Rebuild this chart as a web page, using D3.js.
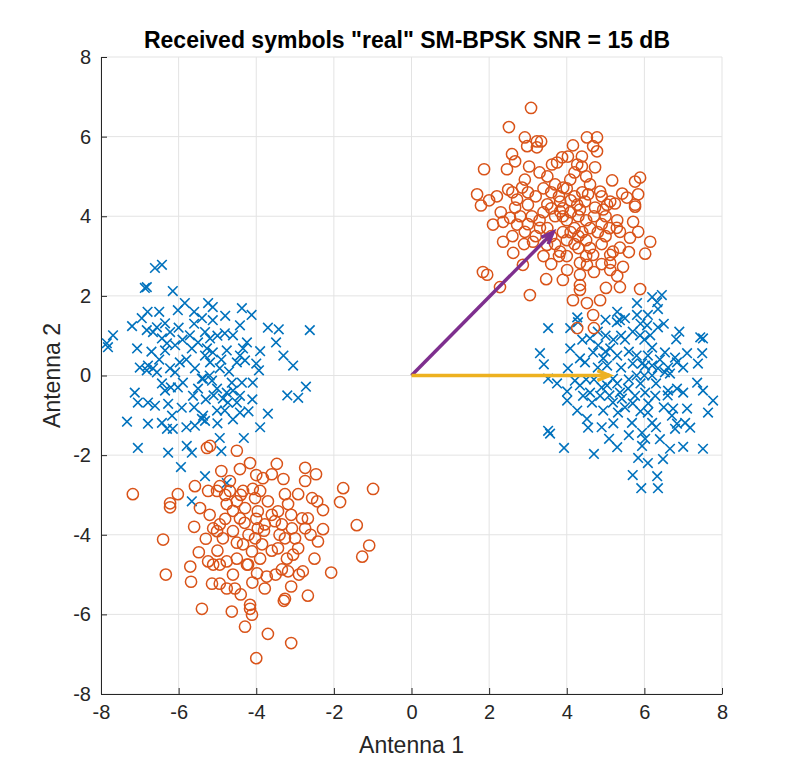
<!DOCTYPE html>
<html>
<head>
<meta charset="utf-8">
<script src="https://cdn.jsdelivr.net/npm/d3@7"></script>
<style>
    body { margin: 0; background: #fff; }
    text { font-family: "Liberation Sans", Arial, sans-serif; }
</style>
</head>
<body>
<div id="chart"></div>
<script>
//Received symbols, orange circles near (+h1+h2) and (-h1-h2)
var orangeTopRight = [
    [3.08,6.72],[2.51,6.24],[2.92,5.98],[3.23,5.88],[3.34,5.88],[2.98,5.76],[3.23,5.73],[2.59,5.56],[2.67,5.38],[1.87,5.18],
    [2.46,5.18],[3.03,5.25],[3.62,5.30],[3.75,5.35],[3.88,5.48],[4.03,5.5],[1.69,4.55],[1.79,4.27],[2.49,4.67],[2.92,4.92],
    [2.85,4.72],[2.72,4.42],[2.67,4.22],[3.0,4.29],[4.52,5.98],[4.78,5.98],[4.68,5.76],[4.78,5.63],[4.16,5.78],[4.39,5.5],
    [4.73,5.23],[4.27,5.30],[4.39,5.25],[5.17,4.9],[5.76,4.87],[5.89,4.97],[4.86,4.62],[5.43,4.57],[5.55,4.47],[5.84,4.55],
    [5.76,4.29],[5.12,4.37],[5.24,4.32],[4.55,4.55],[4.47,4.37],[4.09,4.92],[3.91,4.72],[3.83,4.37],[4.27,4.29],[4.34,4.17],
    [4.73,4.22],[4.94,4.17],[5.04,4.29],[2.1,3.79],[2.36,3.86],[2.36,3.36],[2.62,3.08],[2.87,2.78],[1.84,2.6],[1.95,2.53],
    [2.28,2.22],[3.05,2.02],[3.47,2.42],[2.54,3.96],[2.72,3.79],[2.92,3.61],[3.31,3.71],[3.13,3.36],[3.49,3.28],[3.83,3.11],
    [3.83,4.12],[5.71,3.86],[5.84,3.61],[6.15,3.36],[6.02,3.06],[5.76,4.24],[5.19,3.11],[5.37,3.21],[5.12,3.03],[5.12,2.83],
    [5.45,2.73],[5.12,2.65],[4.68,3.03],[4.52,2.78],[4.34,2.83],[4.01,2.65],[4.34,2.53],[4.34,2.27],[4.16,1.89],[4.52,1.82],
    [5.01,2.2],[5.37,2.22],[5.89,2.17],[4.68,1.52],[4.27,1.19],[5.37,3.61],[5.29,3.71],[5.63,3.46],[4.34,2.15],[4.86,1.89],
    [4.7,1.19],[3.4,4.1],[3.5,4.3],[3.6,4.6],[3.7,4.0],[3.8,4.5],[3.9,4.2],[4.0,3.9],[4.1,4.4],[4.2,3.7],
    [4.3,4.0],[4.4,3.6],[4.5,3.9],[4.6,3.7],[4.7,4.0],[4.8,3.6],[4.9,3.8],[5.0,3.5],[3.5,3.7],[3.6,3.5],
    [3.7,3.3],[3.9,3.6],[4.0,3.4],[4.1,3.6],[4.2,3.3],[4.3,3.5],[4.5,3.4],[4.6,3.2],[4.0,4.7],[3.7,4.8],
    [3.4,4.7],[3.2,4.5],[3.3,3.9],[3.1,4.0],[3.0,3.8],[3.2,3.5],[4.1,4.1],[4.4,4.6],[4.6,4.8],[4.9,4.5],
    [5.0,4.0],[5.3,3.9],[5.1,3.7],[4.3,3.2],[3.8,3.0],[4.0,3.0],[4.5,3.0],[4.9,3.3],[3.6,4.2],[3.9,4.0],
    [4.2,4.5],[3.5,5.0],[3.3,5.1],[4.2,5.1],[4.5,5.0],[3.0,4.6],[2.8,4.0],[2.6,4.6],[2.3,4.1],[2.2,4.5],
    [2.0,4.4],[2.9,3.3],[2.6,3.5],[3.4,3.0],[3.6,2.8],[3.9,2.4],[4.7,2.6],[4.9,2.8],[5.6,3.1],[5.3,2.5]
];

var orangeBottomLeft = [
    [-7.18,-2.98],[-6.02,-2.98],[-6.22,-3.21],[-6.22,-3.31],[-6.4,-4.12],[-6.33,-5.0],[-5.68,-5.18],[-5.4,-5.86],[-5.48,-4.44],[-5.24,-4.67],
    [-5.11,-4.75],[-5.14,-5.23],[-4.94,-5.23],[-4.76,-5.35],[-4.55,-5.35],[-4.63,-5.93],[-4.29,-6.31],[-4.0,-7.1],[-5.27,-1.82],[-5.19,-1.77],
    [-4.5,-1.89],[-4.42,-2.35],[-4.16,-2.2],[-5.45,-3.33],[-5.58,-2.78],[-5.24,-2.9],[-5.01,-2.9],[-4.94,-2.78],[-5.11,-3.84],[-4.94,-3.74],
    [-5.01,-3.91],[-4.86,-4.09],[-4.68,-2.9],[-4.76,-3.23],[-4.5,-3.16],[-4.42,-3.59],[-4.6,-3.91],[-4.34,-4.24],[-4.5,-4.6],[-4.76,-4.67],
    [-4.94,-4.75],[-4.6,-5.0],[-4.24,-4.75],[-4.16,-5.86],[-4.11,-6.01],[-4.34,-2.9],[-4.68,-2.65],[-3.47,-2.22],[-3.83,-2.58],[-3.6,-2.48],
    [-2.74,-2.32],[-2.74,-2.65],[-2.46,-2.48],[-1.76,-2.83],[-0.99,-2.85],[-1.84,-3.18],[-1.41,-3.76],[-1.09,-4.27],[-1.27,-4.55],[-2.07,-4.95],
    [-2.67,-5.53],[-3.26,-5.61],[-3.29,-5.66],[-3.7,-6.49],[-3.1,-6.72],[-2.28,-3.38],[-2.28,-3.86],[-2.41,-4.17],[-2.8,-4.92],[-3.18,-4.92],
    [-3.34,-4.87],[-3.78,-5.35],[-4.16,-5.76],[-3.98,-4.97],[-3.73,-5.05],[-2.56,-3.08],[-2.43,-3.16],[-2.67,-3.59],[-2.74,-3.84],[-2.92,-4.34],
    [-3.05,-4.5],[-3.21,-4.6],[-3.44,-4.34],[-3.26,-4.09],[-3.0,-4.09],[-3.08,-3.84],[-3.34,-3.74],[-3.52,-3.66],[-3.78,-3.74],[-3.96,-3.84],
    [-4.03,-4.09],[-3.85,-4.24],[-4.11,-4.42],[-4.21,-4.75],[-3.96,-3.41],[-3.44,-3.41],[-3.7,-3.16],[-3.26,-2.98],[-2.92,-2.98],[-3.18,-3.23],
    [-2.82,-3.59],[-4.03,-3.08],[-4.09,-2.85],[-4.29,-3.33],[-4.6,-3.4],[-4.3,-3.7],[-4.0,-3.6],[-3.8,-3.9],[-4.2,-4.0],[-4.5,-4.2],
    [-4.8,-3.6],[-5.2,-3.5],[-5.3,-4.1],[-3.6,-4.4],[-3.4,-4.0],[-3.9,-4.6],[-4.4,-3.0],[-3.9,-2.9],[-3.6,-3.5],[-3.1,-3.5],
    [-2.6,-4.0],[-2.5,-4.6],[-3.5,-5.0],[-4.1,-5.2],[-4.4,-5.5],[-5.0,-4.4],[-5.6,-3.8],[-5.7,-4.8],[-4.8,-3.0],[-3.3,-2.6],
    [-3.1,-5.3],[-2.9,-5.0],[-4.0,-2.5],[-4.9,-2.4]
];

//Received symbols, blue crosses near (+h1-h2) and (-h1+h2)
var blueRight = [
    [3.52,1.19],[4.09,1.19],[3.31,0.56],[3.41,0.28],[4.09,0.68],[4.03,0.18],[3.52,-0.08],[3.75,-0.2],[4.01,-0.4],[4.01,-0.63],
    [4.27,-0.88],[4.52,-1.09],[4.55,-1.31],[3.52,-1.39],[3.57,-1.46],[3.93,-1.82],[4.7,-1.97],[5.09,-1.59],[4.27,1.46],[4.29,1.34],
    [5.29,1.34],[5.37,1.39],[4.6,0.93],[4.68,0.58],[4.81,0.76],[4.94,0.43],[5.12,0.68],[5.04,0.25],[4.34,0.43],[4.47,0.33],
    [4.21,-0.13],[4.34,-0.25],[4.42,-0.51],[4.6,-0.43],[4.65,-0.68],[4.86,-0.51],[5.04,-0.25],[5.19,-0.68],[4.94,-0.88],[5.32,-0.93],
    [5.19,-0.08],[5.37,-0.43],[5.81,1.82],[6.2,1.97],[6.45,2.02],[6.33,1.84],[6.35,1.67],[5.5,1.44],[5.81,1.52],[6.09,1.52],
    [6.07,1.26],[6.35,1.21],[5.89,1.01],[6.15,1.01],[6.82,0.91],[7.44,0.96],[7.51,0.93],[6.53,0.58],[7.1,0.56],[7.49,0.56],
    [7.38,0.3],[6.79,0.45],[6.84,0.33],[6.09,0.5],[6.02,0.25],[6.2,0.25],[5.94,0.3],[6.35,0.18],[6.53,0.08],[6.66,0.05],
    [6.61,0.2],[7.36,-0.18],[7.51,-0.38],[7.77,-0.63],[7.64,-0.93],[6.84,-0.33],[7.0,-0.43],[6.61,-0.38],[6.74,-0.83],[7.1,-0.83],
    [6.71,-1.01],[7.05,-1.19],[7.18,-1.31],[6.79,-1.34],[6.84,-1.21],[5.58,-0.33],[5.42,-0.58],[5.76,-0.51],[6.02,-0.43],[6.28,-0.51],
    [6.09,-0.93],[6.2,-1.19],[5.68,-1.19],[5.94,-1.44],[6.02,-1.59],[5.94,-1.77],[6.66,-1.84],[7.0,-1.79],[7.51,-1.84],[5.84,-2.07],
    [6.09,-2.2],[6.48,-2.1],[6.33,-2.53],[6.35,-2.83],[5.92,-2.83],[5.5,0.9],[5.6,0.6],[5.7,0.3],[5.8,0.0],[5.9,-0.2],
    [5.4,0.2],[5.3,0.5],[5.6,-0.1],[5.7,-0.7],[5.9,-0.9],[6.1,-0.7],[6.3,-0.2],[6.4,0.4],[6.2,0.7],[6.0,0.9],
    [5.7,1.1],[5.4,1.0],[5.2,0.9],[5.0,1.0],[4.8,0.2],[4.7,-0.1],[4.9,-0.3],[5.1,-0.5],[5.3,-0.2],[5.5,-0.8],
    [5.2,-1.2],[4.9,-1.3],[5.6,-1.5],[6.3,-1.3],[6.5,-0.8],[6.6,-0.5],[6.0,0.0],[6.2,0.0],[5.8,0.5],[5.0,0.6],
    [4.8,1.1],[4.4,0.9],[4.5,-0.1],[5.3,1.6],[5.0,1.4],[5.9,1.3],[6.5,1.3],[6.9,1.1],[7.0,0.2],[6.4,-1.6],
    [5.3,-1.8],[5.7,-2.5]
];

var blueLeft = [
    [-6.61,2.7],[-6.43,2.78],[-6.87,2.2],[-6.82,2.22],[-6.15,2.12],[-5.84,1.82],[-6.02,1.64],[-6.95,1.44],[-7.2,1.24],[-7.69,1.01],
    [-7.85,0.81],[-7.82,0.71],[-7.07,0.68],[-6.82,1.14],[-6.66,1.09],[-6.56,1.21],[-6.35,1.31],[-6.43,0.93],[-6.3,0.81],[-6.35,0.63],
    [-6.22,1.09],[-6.09,0.76],[-6.79,0.25],[-6.82,0.13],[-6.66,0.18],[-6.56,0.08],[-6.22,0.18],[-6.09,0.08],[-5.97,0.33],[-5.89,-0.18],
    [-6.02,-0.3],[-7.13,-0.43],[-6.43,-0.2],[-6.35,-0.38],[-7.05,-0.68],[-6.79,-0.68],[-6.61,-0.76],[-6.27,-0.71],[-6.17,-1.01],[-5.92,-0.81],
    [-7.33,-1.16],[-6.79,-1.21],[-6.43,-1.19],[-6.3,-1.34],[-6.15,-1.34],[-7.05,-1.82],[-6.27,-1.94],[-5.79,-1.77],[-5.66,-1.94],[-5.94,-2.3],
    [-5.58,-1.26],[-5.4,-1.09],[-5.5,-0.33],[-5.63,-0.51],[-5.4,-0.08],[-5.58,0.18],[-5.32,0.5],[-5.66,0.68],[-5.5,0.83],[-5.71,1.01],
    [-5.32,1.09],[-5.4,1.44],[-5.24,1.82],[-5.12,1.72],[-5.12,1.39],[-4.37,1.69],[-4.42,1.26],[-4.12,1.52],[-3.42,1.16],[-2.62,1.14],
    [-3.49,0.83],[-3.9,0.61],[-3.93,0.13],[-4.09,-0.18],[-3.05,0.25],[-2.72,-0.28],[-2.92,-0.56],[-3.7,-0.96],[-4.32,-1.57],[-4.94,-1.57],
    [-4.6,1.01],[-4.81,1.06],[-5.19,0.93],[-5.27,0.68],[-5.12,0.58],[-4.76,0.63],[-4.34,0.68],[-4.24,0.83],[-4.42,0.5],[-4.29,0.38],
    [-4.5,0.33],[-5.19,0.33],[-4.94,0.18],[-5.37,-0.08],[-5.01,-0.33],[-4.76,-0.43],[-4.6,-0.38],[-4.42,-0.51],[-4.86,-0.58],[-4.73,-0.68],
    [-4.5,-0.68],[-4.81,-0.88],[-4.42,-0.93],[-5.01,-0.88],[-5.37,-1.01],[-5.32,-1.14],[-4.37,-0.18],[-4.63,-0.18],[-5.14,-0.13],[-5.66,-3.16],
    [-5.32,-2.53],[-4.76,-2.7],[-5.8,0.4],[-5.9,0.9],[-6.0,1.2],[-5.6,1.3],[-5.0,1.0],[-4.9,0.4],[-4.7,0.1],[-5.1,-0.5],
    [-5.3,-0.6],[-5.6,-0.8],[-5.2,0.0],[-6.2,-0.3],[-6.5,0.4],[-6.7,0.6],[-5.8,-1.3],[-5.0,-1.2],[-4.6,-1.1],[-4.1,-0.6],
    [-4.0,0.3],[-3.7,1.2],[-4.8,1.5],[-5.6,1.6],[-6.5,1.6],[-6.8,1.6],[-7.0,0.2],[-4.2,-0.9],[-4.9,-1.9],[-3.9,-1.3],
    [-3.2,-0.5],[-3.3,0.5]
];

//Channel vectors drawn as arrows from the origin
var arrowH1 = [5.1, 0];
var arrowH2 = [3.65, 3.6];

var xTicks = [-8, -6, -4, -2, 0, 2, 4, 6, 8];
var yTicks = [-8, -6, -4, -2, 0, 2, 4, 6, 8];

var titleText = 'Received symbols "real" SM-BPSK SNR = 15 dB';
var xLabel = "Antenna 1";
var yLabel = "Antenna 2";

var blue = "#0072BD";
var orange = "#D95319";
var purple = "#7E2F8E";
var yellow = "#EDB120";

var width = 798;
var height = 782;
var margin = {top: 57, right: 76, bottom: 88, left: 101};

var svg = d3.select("#chart").append("svg")
    .attr("width", width)
    .attr("height", height);

var x = d3.scaleLinear().domain([-8, 8]).range([margin.left, width - margin.right]);
var y = d3.scaleLinear().domain([-8, 8]).range([height - margin.bottom, margin.top]);

//Grid lines
svg.append("g").selectAll("line.gx")
    .data(xTicks)
    .enter().append("line")
    .attr("x1", function(d) { return x(d); })
    .attr("x2", function(d) { return x(d); })
    .attr("y1", y(-8))
    .attr("y2", y(8))
    .style("stroke", "#e3e3e3")
    .style("stroke-width", 1);

svg.append("g").selectAll("line.gy")
    .data(yTicks)
    .enter().append("line")
    .attr("x1", x(-8))
    .attr("x2", x(8))
    .attr("y1", function(d) { return y(d); })
    .attr("y2", function(d) { return y(d); })
    .style("stroke", "#e3e3e3")
    .style("stroke-width", 1);

//Axes, ticks point inwards like matlab, plain hyphen for minus
var tickFmt = function(d) { return String(d); };

var xAxis = svg.append("g")
    .attr("transform", "translate(0," + y(-8) + ")")
    .call(d3.axisBottom(x).tickValues(xTicks).tickFormat(tickFmt).tickSizeInner(-6).tickSizeOuter(0).tickPadding(11));

var yAxis = svg.append("g")
    .attr("transform", "translate(" + x(-8) + ",0)")
    .call(d3.axisLeft(y).tickValues(yTicks).tickFormat(tickFmt).tickSizeInner(-6).tickSizeOuter(0).tickPadding(10));

[xAxis, yAxis].forEach(function(a) {
    a.select(".domain").style("stroke", "#262626").style("stroke-width", 1);
    a.selectAll(".tick line").style("stroke", "#262626");
    a.selectAll(".tick text")
        .style("font-family", "'Liberation Sans', Arial, sans-serif")
        .style("font-size", "20px")
        .style("fill", "#262626");
});

//Crosses
function drawCrosses(data, color)
{
    var s = 4.8;
    svg.append("g").selectAll("path")
        .data(data)
        .enter().append("path")
        .attr("d", function(d) {
            var cx = x(d[0]), cy = y(d[1]);
            return "M" + (cx - s) + "," + (cy - s) + "L" + (cx + s) + "," + (cy + s) +
                   "M" + (cx - s) + "," + (cy + s) + "L" + (cx + s) + "," + (cy - s);
        })
        .style("stroke", color)
        .style("stroke-width", 1.6)
        .style("fill", "none");
}

//Circles
function drawCircles(data, color)
{
    svg.append("g").selectAll("circle")
        .data(data)
        .enter().append("circle")
        .attr("cx", function(d) { return x(d[0]); })
        .attr("cy", function(d) { return y(d[1]); })
        .attr("r", 5.6)
        .style("stroke", color)
        .style("stroke-width", 1.5)
        .style("fill", "none");
}

drawCrosses(blueRight, blue);
drawCrosses(blueLeft, blue);
drawCircles(orangeTopRight, orange);
drawCircles(orangeBottomLeft, orange);

//Quiver style arrows
function drawArrow(v, color)
{
    var x0 = x(0), y0 = y(0), x1 = x(v[0]), y1 = y(v[1]);
    var ang = Math.atan2(y1 - y0, x1 - x0);
    var head = 13, spread = 0.38;
    var g = svg.append("g")
        .style("stroke", color)
        .style("stroke-width", 3.5)
        .style("stroke-linecap", "butt")
        .style("fill", "none");
    g.append("line")
        .attr("x1", x0).attr("y1", y0)
        .attr("x2", x1).attr("y2", y1);
    g.append("path")
        .attr("d", "M" + (x1 - head * Math.cos(ang - spread)) + "," + (y1 - head * Math.sin(ang - spread)) +
                   "L" + x1 + "," + y1 +
                   "L" + (x1 - head * Math.cos(ang + spread)) + "," + (y1 - head * Math.sin(ang + spread)));
}

drawArrow(arrowH2, purple);
drawArrow(arrowH1, yellow);

//Title and labels
svg.append("text")
    .attr("x", 407)
    .attr("y", 48)
    .attr("text-anchor", "middle")
    .style("font-size", "23px")
    .style("font-weight", "bold")
    .style("fill", "#000")
    .text(titleText);

svg.append("text")
    .attr("x", x(0))
    .attr("y", 753)
    .attr("text-anchor", "middle")
    .style("font-size", "23px")
    .style("fill", "#262626")
    .text(xLabel);

svg.append("text")
    .attr("transform", "translate(60," + y(0) + ") rotate(-90)")
    .attr("text-anchor", "middle")
    .style("font-size", "23px")
    .style("fill", "#262626")
    .text(yLabel);
</script>
</body>
</html>
